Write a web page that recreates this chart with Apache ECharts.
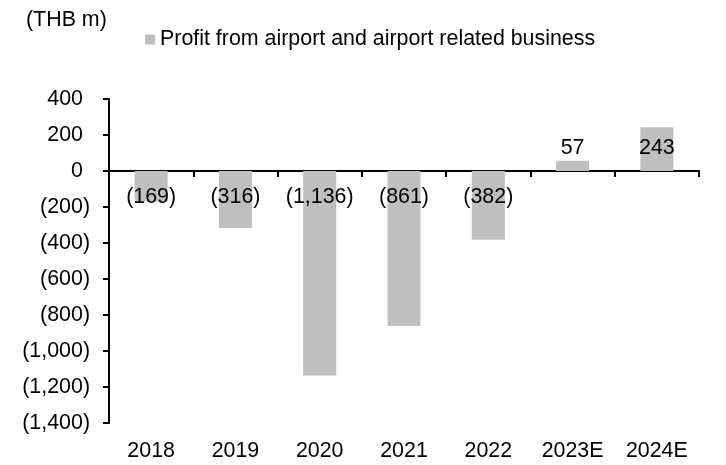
<!DOCTYPE html>
<html>
<head>
<meta charset="utf-8">
<script src="https://cdn.jsdelivr.net/npm/echarts@6/dist/echarts.min.js"></script>
<style>html,body{margin:0;padding:0;background:#fff}#c{width:726px;height:465px}</style>
</head>
<body>
<div id="c"></div>
<script>
const categories = ['2018', '2019', '2020', '2021', '2022', '2023E', '2024E'];
const profit = [-169, -316, -1136, -861, -382, 57, 243];
const seriesName = 'Profit from airport and airport related business';
const unitLabel = '(THB m)';
const yMin = -1400, yMax = 400, yStep = 200;

const FONT = '"Liberation Sans", Arial, sans-serif';
const FS = 21.4;
function fmt(v) {
  const s = Math.abs(v).toLocaleString('en-US');
  return v < 0 ? '(' + s + ')' : s;
}
const chart = echarts.init(document.getElementById('c'), null, {renderer: 'canvas'});
chart.setOption({
  animation: false,
  backgroundColor: '#ffffff',
  textStyle: {fontFamily: FONT, color: '#000'},
  title: {text: unitLabel, left: 26, top: 10, padding: 0,
    textStyle: {fontFamily: FONT, fontSize: FS, fontWeight: 'normal', color: '#000'}},
  legend: {left: 145, top: 29, padding: 0, icon: 'rect', itemWidth: 10, itemHeight: 10, itemGap: 5,
    textStyle: {fontFamily: FONT, fontSize: FS, color: '#000'}, data: [seriesName]},
  grid: {left: 109, right: 27, top: 99, bottom: 42, containLabel: false},
  xAxis: [
    {type: 'category', data: categories, position: 'bottom',
     axisLine: {show: false, onZero: false}, axisTick: {show: false},
     axisLabel: {fontFamily: FONT, fontSize: FS, color: '#000', margin: 18}},
    {type: 'category', data: categories, position: 'top',
     axisLine: {show: true, onZero: true, lineStyle: {color: '#000', width: 2}},
     axisTick: {show: true, inside: true, length: 6, lineStyle: {color: '#000', width: 2}},
     axisLabel: {show: false}}
  ],
  yAxis: {type: 'value', min: yMin, max: yMax, interval: yStep,
    splitLine: {show: false},
    axisLine: {show: true, lineStyle: {color: '#000', width: 2}},
    axisTick: {show: true, length: 6, lineStyle: {color: '#000', width: 2}},
    axisLabel: {fontFamily: FONT, fontSize: FS, color: '#000', margin: 19,
      formatter: function (v) { return v < 0 ? fmt(v) : '{p|' + fmt(v) + '}'; },
      rich: {p: {fontFamily: FONT, fontSize: FS, color: '#000', padding: [0, 7, 0, 0]}}}
  },
  series: [{
    name: seriesName, type: 'bar', xAxisIndex: 0, barWidth: 33,
    itemStyle: {color: '#BFBFBF'},
    data: profit.map(v => ({
      value: v,
      label: {show: true, position: v < 0 ? 'insideTop' : 'insideBottom', distance: v < 0 ? 16 : 12,
        formatter: p => fmt(p.value), fontFamily: FONT, fontSize: FS, color: '#000'}
    }))
  }]
});
</script>
</body>
</html>
